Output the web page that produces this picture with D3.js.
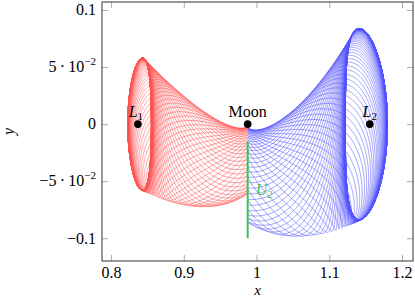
<!DOCTYPE html>
<html>
<head>
<meta charset="utf-8">
<script src="https://cdn.jsdelivr.net/npm/d3@7"></script>
<style>
  body { margin: 0; background: #fff; }
  svg { display: block; }
  text { font-family: "Liberation Serif", "DejaVu Serif", serif; }
</style>
</head>
<body>
<svg id="chart" width="415" height="300"></svg>
<script>
// Earth-Moon mass ratio of the CR3BP
const mu = 0.01215;

// Lyapunov orbits: x where each orbit cuts y = 0 on its far side
const orbitNames = ['L1', 'L2'];
const orbitCrossX = [0.823, 1.180];
const orbitGuessX = [0.84, 1.16];
const trajCount = [50, 50];

// section U2 : x = 1 - mu, y between these
const sectionY = [-0.015, -0.1];

const xDomain = [0.7876, 1.2151];
const yDomain = [-0.1199, 0.107];
const xTicks = [0.8, 0.9, 1, 1.1, 1.2];
const xTickLabels = ['0.8', '0.9', '1', '1.1', '1.2'];
const yTicks = [-0.1, -0.05, 0, 0.05, 0.1];
const yTickLabels = [['−0.1', ''], ['−5\u2009·\u200910', '−2'], ['0', ''], ['5\u2009·\u200910', '−2'], ['0.1', '']];

const colors = { L1: '#ff5252', L2: '#5252ff', section: '#3cc452' };

// ---- CR3BP dynamics ----
function grad(x, y) {
  const r1 = Math.hypot(x + mu, y), r2 = Math.hypot(x - 1 + mu, y);
  const a = (1 - mu) / (r1 * r1 * r1), b = mu / (r2 * r2 * r2);
  return [x - a * (x + mu) - b * (x - 1 + mu), y - a * y - b * y];
}

function hess(x, y) {
  const dx1 = x + mu, dx2 = x - 1 + mu;
  const r1 = Math.hypot(dx1, y), r2 = Math.hypot(dx2, y);
  const r13 = r1 ** 3, r23 = r2 ** 3, r15 = r1 ** 5, r25 = r2 ** 5;
  const uxx = 1 - (1 - mu) / r13 + 3 * (1 - mu) * dx1 * dx1 / r15 - mu / r23 + 3 * mu * dx2 * dx2 / r25;
  const uyy = 1 - (1 - mu) / r13 + 3 * (1 - mu) * y * y / r15 - mu / r23 + 3 * mu * y * y / r25;
  const uxy = 3 * (1 - mu) * dx1 * y / r15 + 3 * mu * dx2 * y / r25;
  return [uxx, uxy, uyy];
}

function f4(s) {
  const g = grad(s[0], s[1]);
  return [s[2], s[3], 2 * s[3] + g[0], -2 * s[2] + g[1]];
}

function f20(s) {
  const g = grad(s[0], s[1]);
  const [uxx, uxy, uyy] = hess(s[0], s[1]);
  const d = [s[2], s[3], 2 * s[3] + g[0], -2 * s[2] + g[1]];
  for (let j = 0; j < 4; j++) {
    const p0 = s[4 + j], p1 = s[8 + j], p2 = s[12 + j], p3 = s[16 + j];
    d[4 + j] = p2;
    d[8 + j] = p3;
    d[12 + j] = uxx * p0 + uxy * p1 + 2 * p3;
    d[16 + j] = uxy * p0 + uyy * p1 - 2 * p2;
  }
  return d;
}

function rk4(s, h, f) {
  const k1 = f(s);
  const k2 = f(s.map((v, i) => v + 0.5 * h * k1[i]));
  const k3 = f(s.map((v, i) => v + 0.5 * h * k2[i]));
  const k4 = f(s.map((v, i) => v + h * k3[i]));
  return s.map((v, i) => v + h / 6 * (k1[i] + 2 * k2[i] + 2 * k3[i] + k4[i]));
}

const I4 = [1, 0, 0, 0, 0, 1, 0, 0, 0, 0, 1, 0, 0, 0, 0, 1];

function lagrange(x) {
  for (let i = 0; i < 50; i++) x -= grad(x, 0)[0] / hess(x, 0)[0];
  return x;
}

function halfOrbit(x0, vy0) {
  let s = [x0, 0, 0, vy0, ...I4], t = 0;
  const h = 0.002;
  while (t < 10) {
    const n = rk4(s, h, f20);
    if (t > 0.3 && s[1] * n[1] <= 0) {
      let r = s, tt = t;
      for (let k = 0; k < 3; k++) {
        const dt = -r[1] / r[3];
        r = rk4(r, dt, f20);
        tt += dt;
      }
      return { s: r, t: tt };
    }
    s = n;
    t += h;
  }
  return null;
}

function correct(x0, vy0) {
  let T = 0;
  for (let i = 0; i < 25; i++) {
    const res = halfOrbit(x0, vy0);
    const s = res.s;
    T = 2 * res.t;
    const vx = s[2], vy = s[3];
    if (Math.abs(vx) < 1e-11) break;
    const ax = 2 * vy + grad(s[0], s[1])[0];
    const p13 = s[4 + 4 * 1 + 3], p23 = s[4 + 4 * 2 + 3];
    vy0 -= vx / (p23 - ax * p13 / vy);
  }
  return { vy0, T };
}

function sampleOrbit(x0, vy0, T, count) {
  const stride = Math.ceil(T / 0.001 / count);
  const steps = stride * count, h = T / steps;
  let s = [x0, 0, 0, vy0, ...I4];
  const out = [];
  for (let i = 0; i < steps; i++) {
    if (i % stride === 0) out.push(s.slice());
    s = rk4(s, h, f20);
  }
  return { samples: out, M: s.slice(4) };
}

function matVec(M, v) {
  return [0, 1, 2, 3].map(i => M[4 * i] * v[0] + M[4 * i + 1] * v[1] + M[4 * i + 2] * v[2] + M[4 * i + 3] * v[3]);
}

function flow(start, side) {
  const xm = 1 - mu;
  let s = start, t = 0, k = 0;
  const pts = [[s[0], s[1]]];
  while (t < 14) {
    const r2 = Math.hypot(s[0] - xm, s[1]);
    const h = Math.min(0.002, 0.05 * Math.sqrt(r2 ** 3 / mu));
    const n = rk4(s, h, f4);
    t += h;
    if ((n[0] - xm) * side >= 0 && (s[0] - xm) * side < 0) {
      const a = (xm - s[0]) / (n[0] - s[0]);
      pts.push([xm, s[1] + a * (n[1] - s[1])]);
      return pts;
    }
    s = n;
    if (++k % 2 === 0) pts.push([s[0], s[1]]);
    if (s[0] < 0.7 || s[0] > 1.3) return null;
  }
  return null;
}

function family(idx) {
  const xL = lagrange(orbitGuessX[idx]);
  const side = idx === 0 ? 1 : -1;
  const target = orbitCrossX[idx] - xL;
  const [uxx, , uyy] = hess(xL, 0);
  const b = 4 - uxx - uyy;
  const w2 = (b + Math.sqrt(b * b - 4 * uxx * uyy)) / 2, w = Math.sqrt(w2);
  const kk = (w2 + uxx) / (2 * w);

  let vy = 0, sol;
  const nCont = 10;
  for (let i = 1; i <= nCont; i++) {
    const a = target * i / nCont;
    const guess = i === 1 ? -kk * w * a : vy * i / (i - 1);
    sol = correct(xL + a, guess);
    vy = sol.vy0;
  }

  const orbit = sampleOrbit(xL + target, vy, sol.T, trajCount[idx]);
  let v = [1, 0.5, 0.3, 0.2];
  for (let i = 0; i < 40; i++) {
    v = matVec(orbit.M, v);
    const n = Math.hypot(...v);
    v = v.map(c => c / n);
  }

  const d = 1e-5;
  const start = (smp, sgn) => {
    const wv = matVec(smp.slice(4), v);
    const n = Math.hypot(wv[0], wv[1]);
    return [0, 1, 2, 3].map(i => smp[i] + sgn * d * wv[i] / n);
  };

  let sgn = 1;
  if (!flow(start(orbit.samples[0], 1), side)) sgn = -1;

  const trajs = orbit.samples.map(smp => flow(start(smp, sgn), side)).filter(p => p);
  const up = trajs.filter(p => p[p.length - 1][1] > 0).length;
  const mirror = up > trajs.length / 2;
  return {
    xL,
    trajs: trajs
      .map(p => mirror ? p.map(q => [q[0], -q[1]]) : p)
      .filter(p => p[p.length - 1][1] <= 0)
  };
}

const fams = orbitNames.map((n, i) => family(i));

// ---- drawing ----
const svg = d3.select('#chart');
const plotLeft = 102, plotRight = 413, plotTop = 2, plotBottom = 261;
const x = d3.scaleLinear().domain(xDomain).range([plotLeft, plotRight]);
const y = d3.scaleLinear().domain(yDomain).range([plotBottom, plotTop]);

svg.append('clipPath').attr('id', 'clip')
  .append('rect').attr('x', plotLeft).attr('y', plotTop)
  .attr('width', plotRight - plotLeft).attr('height', plotBottom - plotTop);

const plot = svg.append('g').attr('clip-path', 'url(#clip)');
const line = d3.line().x(d => x(d[0])).y(d => y(d[1]));

fams.forEach((f, i) => {
  plot.append('g')
    .selectAll('path')
    .data(f.trajs)
    .enter()
    .append('path')
    .attr('d', line)
    .attr('fill', 'none')
    .attr('stroke', colors[orbitNames[i]])
    .attr('stroke-width', 0.55);
});

// section U2
plot.append('line')
  .attr('x1', x(1 - mu)).attr('x2', x(1 - mu))
  .attr('y1', y(sectionY[0])).attr('y2', y(sectionY[1]))
  .attr('stroke', colors.section)
  .attr('stroke-width', 2);

svg.append('text')
  .attr('x', x(1 - mu) + 8).attr('y', 195)
  .attr('fill', colors.section)
  .attr('font-size', 16)
  .call(t => {
    t.append('tspan').attr('font-style', 'italic').text('U');
    t.append('tspan').attr('font-size', 11).attr('dy', 3).text('2');
  });

// axes
const tick = 6;
svg.append('g').attr('transform', `translate(0,${plotBottom})`)
  .call(d3.axisBottom(x).tickValues(xTicks).tickSizeInner(-tick).tickSizeOuter(0).tickPadding(6)
    .tickFormat((d, i) => xTickLabels[i]));
svg.append('g').attr('transform', `translate(0,${plotTop})`)
  .call(d3.axisTop(x).tickValues(xTicks).tickSizeInner(-tick).tickSizeOuter(0).tickFormat(''));
svg.append('g').attr('transform', `translate(${plotLeft},0)`)
  .call(d3.axisLeft(y).tickValues(yTicks).tickSizeInner(-tick).tickSizeOuter(0).tickFormat(''));
svg.append('g').attr('transform', `translate(${plotRight},0)`)
  .call(d3.axisRight(y).tickValues(yTicks).tickSizeInner(-tick).tickSizeOuter(0).tickFormat(''));

svg.selectAll('.domain').remove();
svg.selectAll('.tick line').attr('stroke', '#999').attr('stroke-width', 0.8);
svg.selectAll('.tick text')
  .attr('font-family', '"Liberation Serif", serif')
  .attr('font-size', 16)
  .attr('fill', '#000');

yTicks.forEach((v, i) => {
  const t = svg.append('text')
    .attr('x', plotLeft - 6).attr('y', y(v)).attr('dy', '0.33em')
    .attr('text-anchor', 'end').attr('font-size', 16);
  t.append('tspan').text(yTickLabels[i][0]);
  if (yTickLabels[i][1]) t.append('tspan').attr('font-size', 11).attr('dy', -7).text(yTickLabels[i][1]);
});

svg.append('rect')
  .attr('x', plotLeft).attr('y', plotTop)
  .attr('width', plotRight - plotLeft).attr('height', plotBottom - plotTop)
  .attr('fill', 'none').attr('stroke', '#333').attr('stroke-width', 1);

// axis titles
svg.append('text').attr('x', (plotLeft + plotRight) / 2).attr('y', 295)
  .attr('text-anchor', 'middle').attr('font-size', 15).attr('font-style', 'italic').text('x');
svg.append('text').attr('transform', `translate(14,${(plotTop + plotBottom) / 2}) rotate(-90)`)
  .attr('text-anchor', 'middle').attr('font-size', 16).attr('font-style', 'italic').text('y');

// points
const marks = [
  { name: 'L', sub: '1', x: fams[0].xL, dx: -2 },
  { name: 'Moon', sub: '', x: 1 - mu, dx: 0 },
  { name: 'L', sub: '2', x: fams[1].xL, dx: 0 }
];
marks.forEach(m => {
  svg.append('circle').attr('cx', x(m.x)).attr('cy', y(0)).attr('r', 3.8).attr('fill', '#000');
  const t = svg.append('text').attr('x', x(m.x) + m.dx).attr('y', y(0) - 7)
    .attr('text-anchor', 'middle').attr('font-size', 16);
  if (m.sub) {
    t.append('tspan').attr('font-style', 'italic').text(m.name);
    t.append('tspan').attr('font-size', 11).attr('dy', 3).text(m.sub);
  } else {
    t.text(m.name);
  }
});
</script>
</body>
</html>
